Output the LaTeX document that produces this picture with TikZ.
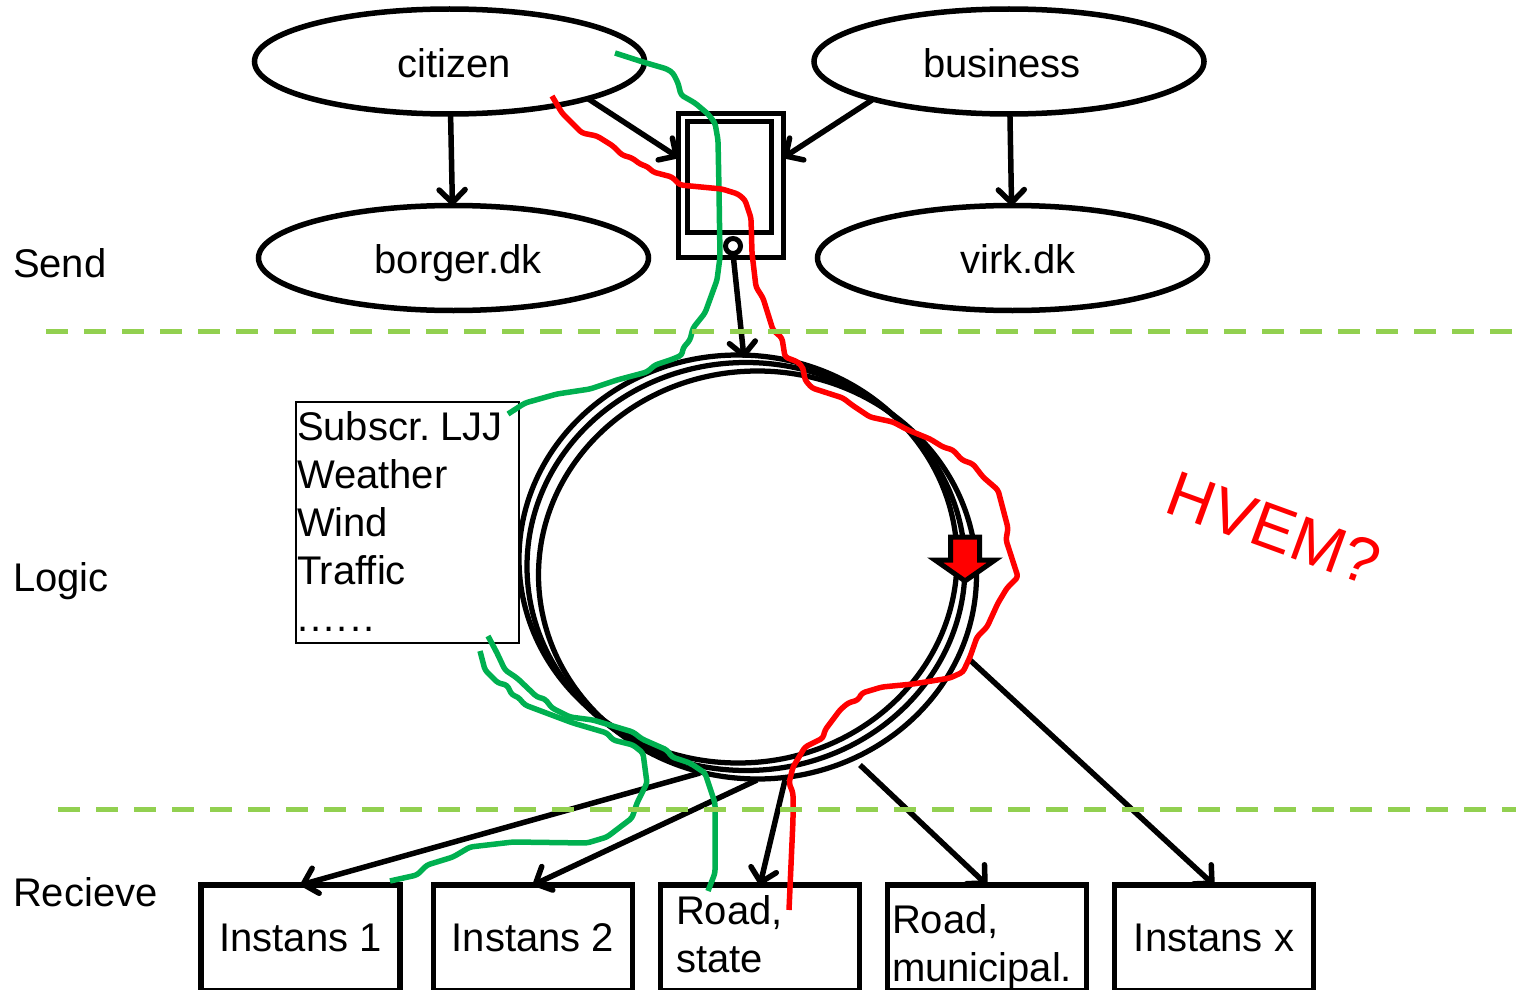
\documentclass[tikz,border=0pt]{standalone}
\usepackage{fontspec}
\setmainfont{Liberation Sans}
\usetikzlibrary{shapes.geometric,arrows.meta}
\tikzset{
  lab/.style={font=\fontsize{40}{48}\selectfont,inner sep=0pt,outer sep=0pt},
  oval/.style={ellipse,draw=black,line width=5.5pt,minimum width=390pt,minimum height=105pt,inner sep=0pt,outer sep=0pt,font=\fontsize{40}{48}\selectfont,text height=31.5pt,text depth=0pt},
  ringline/.style={ellipse,draw=black,line width=5.25pt,minimum width=438pt,minimum height=408pt,inner sep=0pt,outer sep=0pt},
  recv/.style={rectangle,draw=black,line width=5.5pt,minimum width=199pt,minimum height=106pt,inner sep=0pt,outer sep=0pt,font=\fontsize{40}{48}\selectfont},
  devbox/.style={rectangle,draw=black,line width=5.5pt,inner sep=0pt,outer sep=0pt},
  arr/.style={draw=black,line width=5.5pt,-{Straight Barb[length=13pt,width=26pt,line width=5.5pt,round]}},
  zone/.style={draw={rgb,255:red,146;green,208;blue,80},line width=5pt,dash pattern=on 22pt off 16pt},
  gpath/.style={draw={rgb,255:red,0;green,176;blue,80},line width=5.5pt,line join=round,rounded corners=3pt},
  rpath/.style={draw=red,line width=5.5pt,line join=round,rounded corners=3pt},
}
\begin{document}
\begin{tikzpicture}[x=1pt,y=-1pt]
\useasboundingbox (0,0) rectangle (1516,990);
% rings
\node[ringline] (ringa) at (738,559) {};
\node[ringline] (ringb) at (746,566.5) {};
\node[ringline] (ringc) at (757.5,575) {};
% ovals
\node[oval] (citizen) at (449.5,61.5) {\hspace*{9pt}citizen};
\node[oval] (business) at (1009,61.5) {business\hspace*{14pt}};
\node[oval] (borger) at (453.5,258) {\hspace*{9pt}borger.dk};
\node[oval] (virk) at (1012.5,258) {\hspace*{11pt}virk.dk};
% device
\node[devbox,minimum width=105pt,minimum height=144pt] (dev) at (731,185.5) {};
\node[devbox,minimum width=84pt,minimum height=111pt] (screen) at (729.5,177) {};
\node[circle,draw=black,line width=5pt,minimum size=15pt,inner sep=0pt,outer sep=0pt] (knob) at (733,246) {};
% boxes
\node[draw=black,line width=1.5pt,fill=white,minimum width=223pt,minimum height=241pt,anchor=north west,inner sep=0pt,outer sep=0pt] (subs) at (296,402) {};
\node[lab,anchor=north west,align=left] (substext) at (297,411.5) {Subscr.\kern-5pt{} LJJ\\Weather\\Wind\\Traffic\\[-1pt].\kern2.2pt.\kern2.2pt.\kern2.2pt.\kern2.2pt.\kern2.2pt.};
\node[recv] (inst1) at (300.5,938) {Instans 1};
\node[recv] (inst2) at (533,938) {Instans 2};
\node[recv] (rstate) at (760,938) {};
\node[recv] (rmun) at (987,938) {};
\node[recv] (instx) at (1214,938) {Instans x};
\node[lab,anchor=north west,align=left] (rstatetext) at (676,896) {Road,\\state};
\node[lab,anchor=north west,align=left] (rmuntext) at (892,905) {Road,\\municipal.};
% labels
\node[lab,anchor=base west] (send) at (13,277) {Send};
\node[lab,anchor=base west] (logic) at (13,591) {Logic};
\node[lab,anchor=base west] (recieve) at (13,906) {Recieve};
\node[lab,text=red,rotate=-20,font=\fontsize{64}{68}\selectfont] (hvem) at (1274,528) {HVEM?};
% connector ends
\coordinate (c1) at (587,98);
\coordinate (b1) at (872,100);
\coordinate (rtop) at (744,358);
\coordinate (r1) at (700,773);
\coordinate (r2) at (757,780);
\coordinate (r3) at (785,780);
\coordinate (r4) at (860,765);
\coordinate (r5) at (970,660);
\draw[arr] (citizen) -- (borger);
\draw[arr] (business) -- (virk);
\draw[arr] (c1) -- (dev.152);
\draw[arr] (b1) -- (dev.28);
\draw[arr] (knob.south) -- (rtop);
\draw[arr] (r1) -- (inst1.north);
\draw[arr] (r2) -- (inst2.north);
\draw[arr] (r3) -- (rstate.north);
\draw[arr] (r4) -- (rmun.north);
\draw[arr] (r5) -- (instx.north);
% red block arrow
\draw[fill=red,draw=black,line width=5pt,miter limit=10] (950.5,537) -- (979.5,537) -- (979.5,560) -- (995,560) -- (965,581) -- (935,560) -- (950.5,560) -- cycle;
% green paths
\draw[gpath] (615,53) -- (643,62) -- (667,69) -- (673,73) -- (678,83) -- (681,95) -- (695,103) -- (708,114) -- (715,123) -- (718,140) -- (719,190) -- (720,257) -- (717,280) -- (705,313) -- (693,328) -- (690,340) -- (683,348) -- (682,355) -- (673,359) -- (655,365) -- (647,372) -- (617,380) -- (590,389) -- (557,394) -- (525,403) -- (508,414);
\draw[gpath] (488,636) -- (497,653) -- (505,670) -- (517,678) -- (537,697) -- (545,699) -- (552,708) -- (570,717) -- (593,720) -- (633,732) -- (642,739) -- (667,750) -- (672,757) -- (690,763) -- (705,773) -- (715,803) -- (715,873) -- (708,891);
\draw[gpath] (480,651) -- (485,670) -- (498,683) -- (507,685) -- (512,695) -- (518,697) -- (525,705) -- (573,723) -- (607,733) -- (613,740) -- (633,745) -- (643,753) -- (647,783) -- (637,803) -- (632,818) -- (607,837) -- (587,843) -- (513,842) -- (470,847) -- (453,857) -- (427,865) -- (417,875) -- (390,881);
% red path
\draw[rpath] (552,96) -- (562,113) -- (582,133) -- (597,136) -- (613,146) -- (622,155) -- (632,158) -- (640,164) -- (648,167) -- (653,172) -- (672,177) -- (680,185) -- (722,189) -- (738,194) -- (745,200) -- (751,218) -- (752,253) -- (756,287) -- (763,298) -- (773,330) -- (782,338) -- (785,357) -- (798,362) -- (803,368) -- (805,380) -- (812,388) -- (843,398) -- (852,405) -- (870,417) -- (893,422) -- (908,430) -- (930,439) -- (943,447) -- (953,450) -- (962,460) -- (973,464) -- (983,477) -- (998,490) -- (1008,528) -- (1006,540) -- (1018,577) -- (1007,588) -- (998,603) -- (987,627) -- (977,637) -- (970,657) -- (963,672) -- (950,678) -- (913,684) -- (882,687) -- (862,693) -- (858,700) -- (848,703) -- (840,710) -- (825,730) -- (823,738) -- (805,747) -- (793,767) -- (789,783) -- (793,793) -- (793,820) -- (789,910);
% zones
\coordinate (z1a) at (46,331);
\coordinate (z1b) at (1516,331);
\coordinate (z2a) at (58,809);
\coordinate (z2b) at (1516,809);
\draw[zone] (z1a) -- (z1b);
\draw[zone] (z2a) -- (z2b);
\end{tikzpicture}
\end{document}
